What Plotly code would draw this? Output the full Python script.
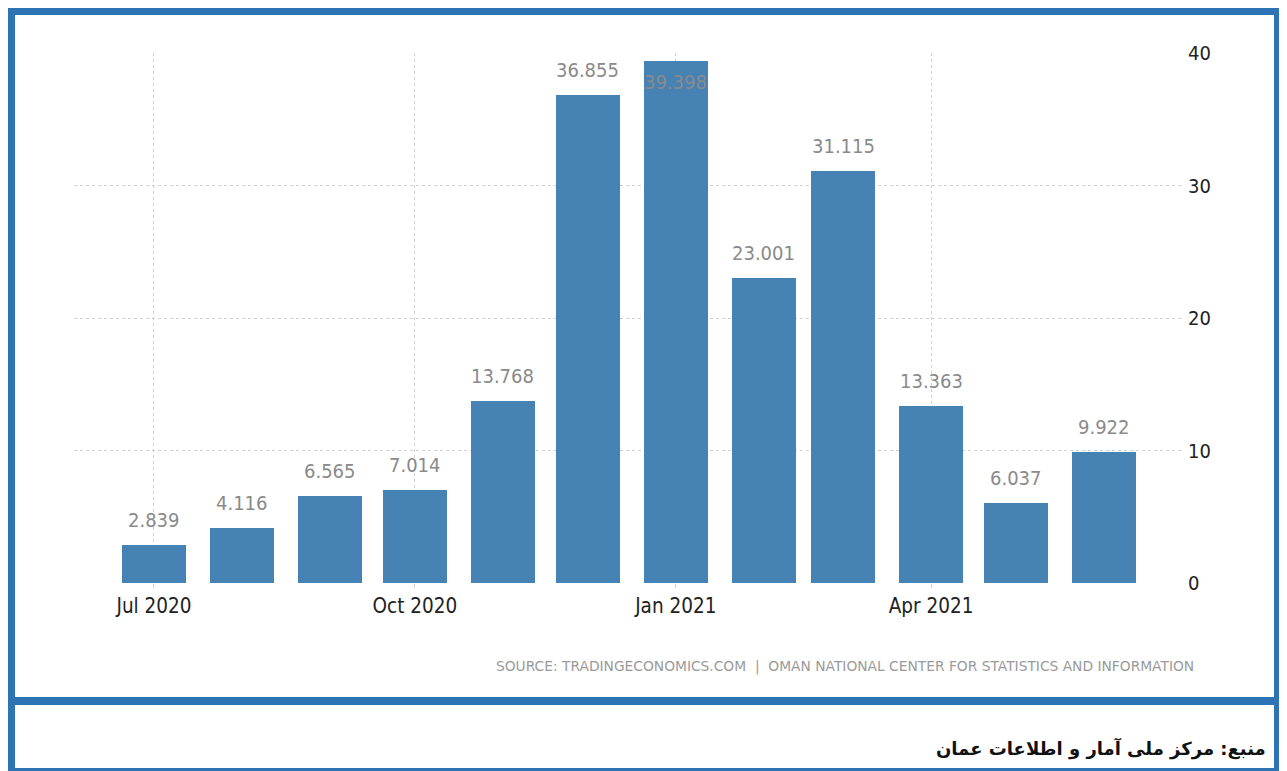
import plotly.graph_objects as go

months = ["2020-07-01", "2020-08-01", "2020-09-01", "2020-10-01", "2020-11-01", "2020-12-01",
          "2021-01-01", "2021-02-01", "2021-03-01", "2021-04-01", "2021-05-01", "2021-06-01"]
values = [2.839, 4.116, 6.565, 7.014, 13.768, 36.855, 39.398, 23.001, 31.115, 13.363, 6.037, 9.922]
value_labels = ["2.839", "4.116", "6.565", "7.014", "13.768", "36.855", "39.398", "23.001",
                "31.115", "13.363", "6.037", "9.922"]
x_tick_vals = ["2020-07-01", "2020-10-01", "2021-01-01", "2021-04-01"]
x_tick_text = ["Jul 2020", "Oct 2020", "Jan 2021", "Apr 2021"]
y_tick_vals = [0, 10, 20, 30, 40]

source_text = "SOURCE: TRADINGECONOMICS.COM  |  OMAN NATIONAL CENTER FOR STATISTICS AND INFORMATION"
persian_text = "منبع: مرکز ملی آمار و اطلاعات عمان"

# page body has an 8px margin, so the figure is drawn 8px in from the window corner
OFF = 8
WIN_W, WIN_H = 1287, 771
W, H = WIN_W - 2 * OFF, WIN_H - OFF
# plot area in window pixels
L, R, T, B = 74, 1182, 53, 583
FRAME = "#2E74B5"
BAR = "#4682B4"
NARROW = "Liberation Sans Narrow, DejaVu Sans Condensed, Arial Narrow, sans-serif"


def px(x):
    return (x - L) / (R - L)


def py(y):
    return (B - y) / (B - T)


bar_width_ms = 22.56 * 86400000

fig = go.Figure()
fig.add_trace(go.Bar(
    x=months, y=values, width=[bar_width_ms] * len(values),
    marker=dict(color=BAR, line=dict(width=0)),
    hoverinfo="x+y",
))

annotations = []
for m, v, t in zip(months, values, value_labels):
    inside = v > 38
    annotations.append(dict(
        x=m, y=v, xref="x", yref="y", text=t, showarrow=False,
        yanchor="middle", xanchor="center", yshift=-21 if inside else 25,
        font=dict(family=NARROW, size=20, color="#8a8a8a"),
    ))

annotations.append(dict(
    x=px(1196), y=py(666), xref="paper", yref="paper", text=source_text,
    showarrow=False, xanchor="right", yanchor="middle",
    font=dict(family="DejaVu Sans, sans-serif", size=13.8, color="#9a9a9a"),
))
annotations.append(dict(
    x=px(1268), y=py(748), xref="paper", yref="paper", text="<b>" + persian_text + "</b>",
    showarrow=False, xanchor="right", yanchor="middle",
    font=dict(family="DejaVu Sans, sans-serif", size=18, color="#111111"),
))

shapes = []


def rect(x0, y0, x1, y1):
    shapes.append(dict(type="rect", xref="paper", yref="paper",
                       x0=px(x0), x1=px(x1), y0=py(y1), y1=py(y0),
                       fillcolor=FRAME, line=dict(width=0), layer="above"))


RIGHT_EDGE = WIN_W - OFF  # last visible window column
rect(7, 8, RIGHT_EDGE, 15)                 # top bar
rect(7, 8, 15, 771)                        # left bar
rect(RIGHT_EDGE - 5, 15, RIGHT_EDGE, 771)  # right bar
rect(7, 697, RIGHT_EDGE, 705)              # divider
rect(7, 768, RIGHT_EDGE, 771)              # bottom

fig.update_layout(
    width=W, height=H, autosize=False,
    margin=dict(l=L - OFF, r=(W + OFF) - R, t=T - OFF, b=(H + OFF) - B, pad=0),
    paper_bgcolor="white", plot_bgcolor="white",
    showlegend=False, bargap=0,
    annotations=annotations, shapes=shapes,
    xaxis=dict(
        type="date", range=["2020-06-02 19:12", "2021-06-28 12:00"],
        tickvals=x_tick_vals, ticktext=x_tick_text,
        showgrid=True, gridcolor="#d0d0d0", griddash="dot", gridwidth=1,
        ticks="outside", ticklen=4, tickcolor="#d0d0d0",
        showline=False, zeroline=False,
        tickfont=dict(family=NARROW, size=20.5, color="#222222"),
        fixedrange=True,
    ),
    yaxis=dict(
        range=[0, 40], side="right", tickvals=y_tick_vals,
        showgrid=True, gridcolor="#d0d0d0", griddash="dot", gridwidth=1,
        zeroline=False, showline=False, ticks="", ticklabelstandoff=5,
        tickfont=dict(family=NARROW, size=20, color="#222222"),
        fixedrange=True,
    ),
)

fig.write_html("out.html")
